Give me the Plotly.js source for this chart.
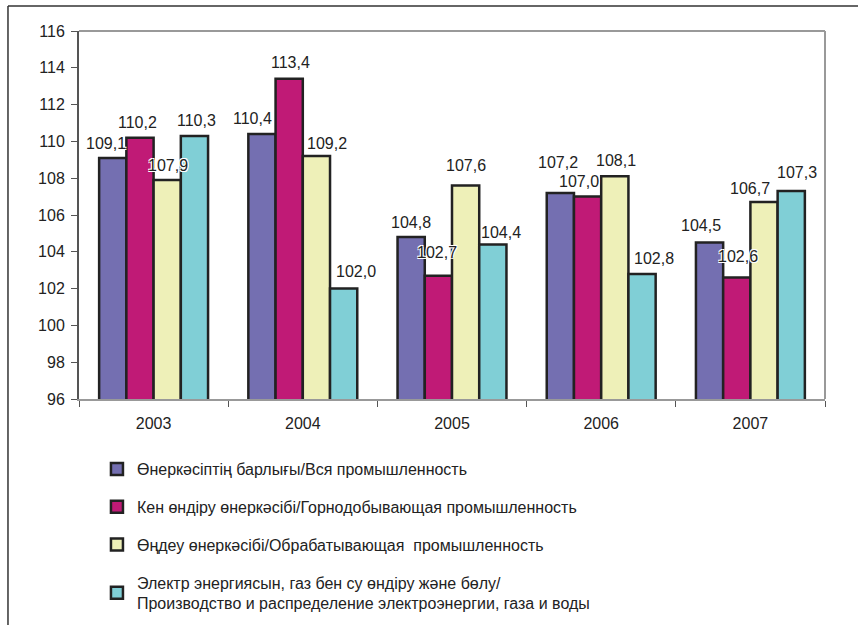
<!DOCTYPE html>
<html>
<head>
<meta charset="utf-8">
<script src="https://cdn.plot.ly/plotly-3.0.1.min.js"></script>
<style>html,body{margin:0;padding:0;background:#fff;}#chart{width:858px;height:625px;}</style>
</head>
<body>
<div id="chart"></div>
<script>
const years = ['2003', '2004', '2005', '2006', '2007'];
const seriesNames = [
  'Өнеркәсіптің барлығы/Вся промышленность',
  'Кен өндіру өнеркәсібі/Горнодобывающая промышленность',
  'Өңдеу өнеркәсібі/Обрабатывающая  промышленность',
  'Электр энергиясын, газ бен су өндіру және бөлу/<br>Производство и распределение электроэнергии, газа и воды'
];
const allIndustry = [109.1, 110.4, 104.8, 107.2, 104.5];
const mining = [110.2, 113.4, 102.7, 107.0, 102.6];
const manufacturing = [107.9, 109.2, 107.6, 108.1, 106.7];
const utilities = [110.3, 102.0, 104.4, 102.8, 107.3];
const yTicks = [96, 98, 100, 102, 104, 106, 108, 110, 112, 114, 116];

// label nudges (pixels) as in the source, relative to bar top centre
const labelDx = [
  [-7, -9, 0, -2, -9],
  [-2, 1, -1, -9, 1],
  [1, 11, 0, 1, -14],
  [2, 12, 8, 12, 6]
];
const labelDy = [
  [14, 16, 15, 30, 17],
  [15, 16, 23, 15, 21],
  [15, 13, 20, 16, 14],
  [15, 17, 12, 15, 19]
];

const colors = ['#746fb1', '#c01a76', '#eef0b8', '#80cfd6'];
const values = [allIndustry, mining, manufacturing, utilities];
const FONT = 'Liberation Sans, Arial, sans-serif';

const traces = values.map((v, i) => ({
  type: 'bar',
  x: years,
  y: v,
  name: seriesNames[i],
  legendgroup: 'g' + i,
  marker: {color: colors[i], line: {color: '#222', width: 2.5}},
  hoverinfo: 'skip'
}));

const ml = 79, mr = 33;
const plotW = 858 - ml - mr;
const bargap = 0.27;
const catW = plotW / years.length;
const barW = catW * (1 - bargap) / values.length;

const halo = '1px 1px 0 #fff, -1px -1px 0 #fff, 1px -1px 0 #fff, -1px 1px 0 #fff';
const annotations = [];
values.forEach((v, i) => {
  v.forEach((val, j) => {
    annotations.push({
      x: j, y: val, xref: 'x', yref: 'y',
      text: val.toFixed(1).replace('.', ','),
      showarrow: false,
      xanchor: 'center', yanchor: 'middle',
      xshift: (i - 1.5) * barW + labelDx[i][j],
      yshift: labelDy[i][j],
      font: {family: FONT, size: 16, color: '#222', shadow: halo}
    });
  });
});

const layout = {
  width: 858,
  height: 625,
  separators: ', ',
  margin: {l: ml, r: mr, t: 31, b: 226, autoexpand: false},
  paper_bgcolor: '#fff',
  plot_bgcolor: '#fff',
  barmode: 'group',
  bargap: bargap,
  bargroupgap: 0,
  font: {family: FONT, size: 16, color: '#222'},
  xaxis: {
    type: 'category',
    range: [-0.5, years.length - 0.5],
    autorange: false,
    tickangle: 0,
    showline: true, linecolor: '#999', linewidth: 2,
    ticks: 'outside', tickson: 'boundaries', ticklen: 6, tickcolor: '#555', tickwidth: 1,
    ticklabelstandoff: 9,
    tickfont: {family: FONT, size: 16, color: '#222'},
    showgrid: false, zeroline: false
  },
  yaxis: {
    range: [96, 116],
    autorange: false,
    tickvals: yTicks,
    ticktext: yTicks.map(String),
    showline: true, linecolor: '#555', linewidth: 2,
    ticks: 'outside', ticklen: 6, tickcolor: '#555', tickwidth: 1,
    ticklabelstandoff: 3,
    tickfont: {family: FONT, size: 16, color: '#222'},
    showgrid: false, zeroline: false
  },
  showlegend: true,
  legend: {
    xref: 'container', yref: 'container',
    x: 0.113, xanchor: 'left',
    y: 0.2768, yanchor: 'top',
    orientation: 'v',
    traceorder: 'grouped',
    tracegroupgap: 14,
    itemwidth: 30,
    font: {family: FONT, size: 16, color: '#222'},
    bgcolor: 'rgba(0,0,0,0)'
  },
  annotations: annotations,
  shapes: [
    {type: 'line', xref: 'paper', yref: 'paper', x0: 0, x1: 1, y0: 1, y1: 1, line: {color: '#999', width: 2}},
    {type: 'line', xref: 'paper', yref: 'paper', x0: 1, x1: 1, y0: 0, y1: 1, line: {color: '#999', width: 2}},
    {type: 'line', xref: 'paper', yref: 'paper', x0: -0.0952, x1: 1.1, y0: 1.068, y1: 1.068, line: {color: '#333', width: 1.5}},
    {type: 'line', xref: 'paper', yref: 'paper', x0: -0.0952, x1: -0.0952, y0: -0.7, y1: 1.068, line: {color: '#333', width: 1.5}}
  ]
};

Plotly.newPlot('chart', traces, layout, {displayModeBar: false, staticPlot: true});
</script>
</body>
</html>
